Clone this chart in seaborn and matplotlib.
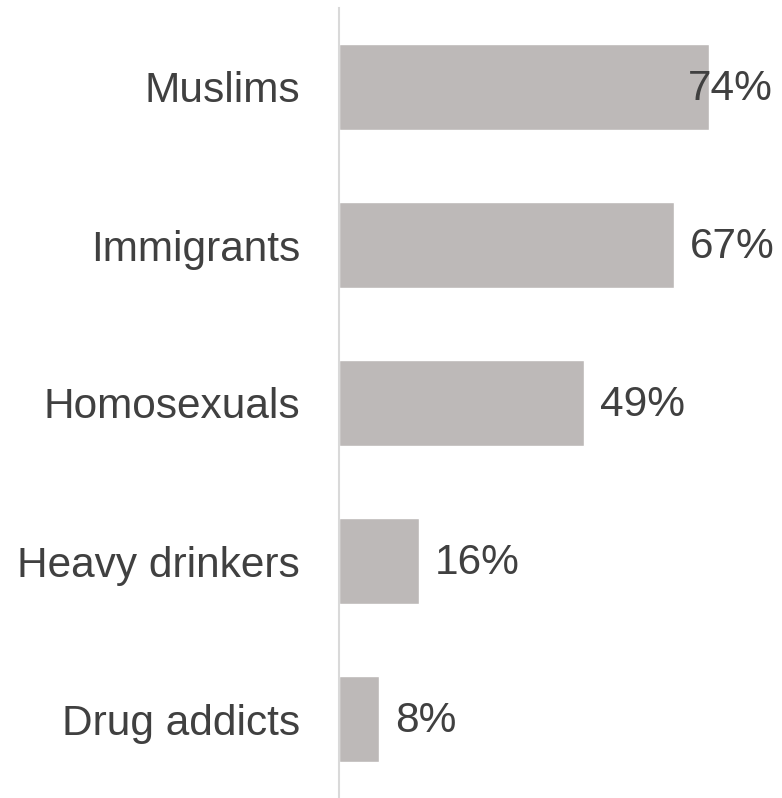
import matplotlib
matplotlib.use("Agg")
import matplotlib.pyplot as plt
import seaborn as sns
import pandas as pd

categories = ["Muslims", "Immigrants", "Homosexuals", "Heavy drinkers", "Drug addicts"]
values = [74, 67, 49, 16, 8]
value_labels = ["74%", "67%", "49%", "16%", "8%"]

sns.set_theme(style="white")
plt.rcParams['font.family'] = ['Liberation Sans', 'DejaVu Sans']

df = pd.DataFrame({"category": categories, "value": values})

fig = plt.figure(figsize=(7.82, 7.98), dpi=100)
ax = fig.add_axes([339/782, 0, 1 - 339/782, 790/798])
sns.barplot(data=df, x="value", y="category", orient="h", color="#BDB9B8",
            saturation=1, width=0.54, ax=ax)

xmax = (782 - 339) / 5.0
ax.set_xlim(0, xmax)
ax.set_ylim(4.5, -0.5)

text_color = "#404040"
for i, (v, lab) in enumerate(zip(values, value_labels)):
    w = 4.0 * len(lab)
    if v + 3 + w > 87:
        ax.text(86.8, i + 0.01, lab, ha="right", va="center", fontsize=30.5, color=text_color)
    else:
        ax.text(v + 3.2, i + 0.01, lab, ha="left", va="center", fontsize=30.5, color=text_color)

ax.set_xlabel("")
ax.set_ylabel("")
ax.set_xticks([])
ax.tick_params(axis="y", length=0, pad=28, labelsize=30.5, labelcolor=text_color)
for s in ["top", "right", "bottom"]:
    ax.spines[s].set_visible(False)
ax.spines["left"].set_color("#D9D9D9")
ax.spines["left"].set_linewidth(1.5)

fig.savefig("out.png", dpi=100)
